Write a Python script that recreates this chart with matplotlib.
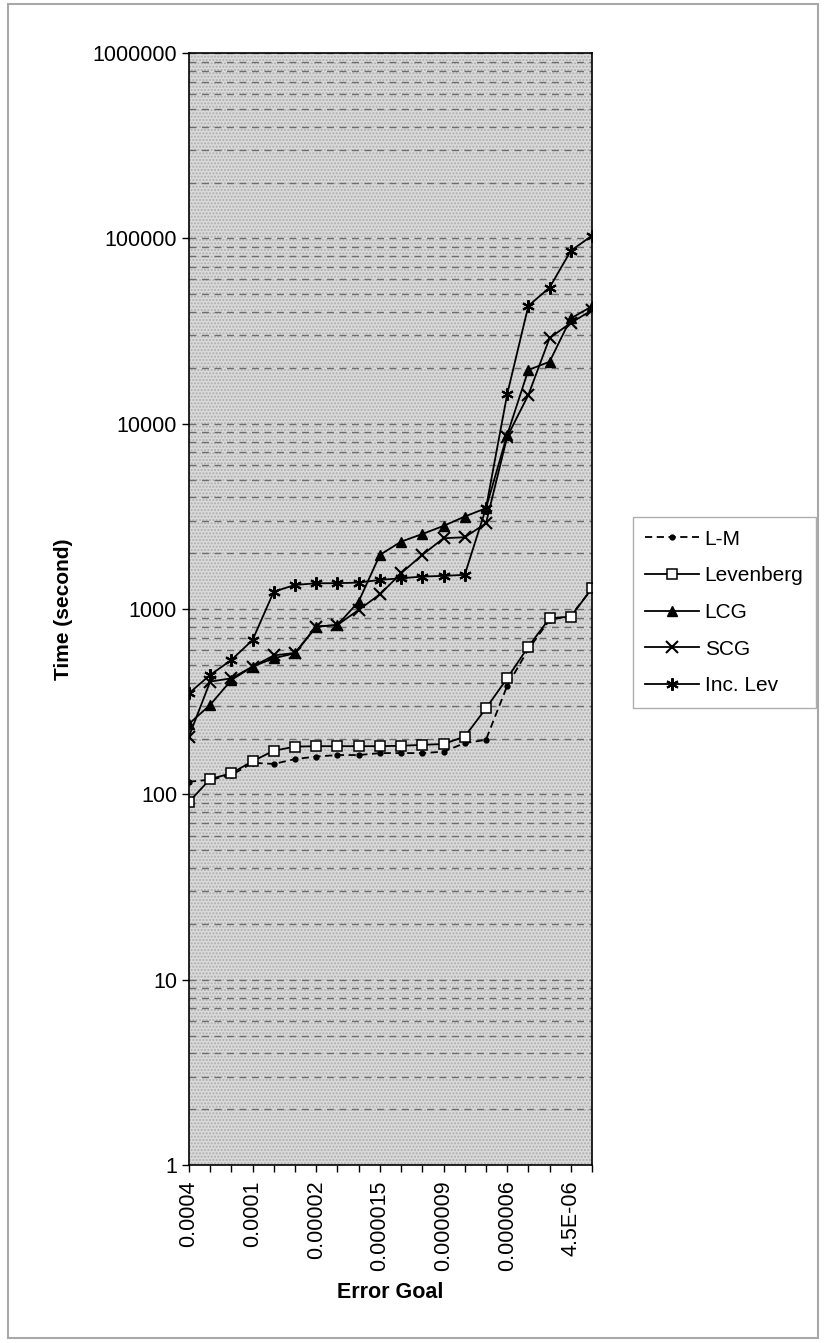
import numpy as np
import matplotlib.pyplot as plt
from matplotlib.ticker import LogLocator, FixedLocator, NullFormatter
from matplotlib.patches import Rectangle

plt.rcParams['font.family'] = ['Liberation Sans', 'DejaVu Sans']
plt.rcParams['hatch.linewidth'] = 1.0

# error goals (only every third one is labelled in the original)
goals = ['0.0004', '0.0003', '0.0002', '0.0001', '0.00008', '0.00005', '0.00002',
         '0.000019', '0.000017', '0.000015', '0.000013', '0.000011', '0.000009',
         '0.000008', '0.000007', '0.000006', '5.5E-06', '5E-06', '4.5E-06', '4E-06']
shown = [0, 3, 6, 9, 12, 15, 18]
y_ticks = [1, 10, 100, 1000, 10000, 100000, 1000000]

# training time in seconds
lm = [117, 120, 127, 148, 146, 155, 160, 163, 163, 167, 167, 167, 170, 189, 197,
      385, 607, 873, 920, 1290]
levenberg = [91, 121, 130, 151, 172, 181, 182, 182, 182, 182, 183, 185, 187, 205, 291,
             423, 627, 892, 910, 1295]
lcg = [240, 304, 414, 489, 543, 577, 804, 820, 1097, 1960, 2310, 2540, 2810, 3155, 3500,
       8700, 19500, 21600, 37000, 43000]
scg = [205, 406, 423, 489, 562, 580, 804, 820, 990, 1200, 1560, 1960, 2410, 2440, 2900,
       8500, 14300, 29000, 35000, 41000]
inc_lev = [351, 441, 531, 681, 1242, 1349, 1378, 1378, 1390, 1436, 1466, 1497, 1510, 1530,
           3500, 14400, 43250, 54300, 85700, 103500]

fig = plt.figure(figsize=(8.25, 13.43), dpi=100)
ax = fig.add_axes([0.229, 0.1325, 0.4886, 0.828])

# stippled grey plot area
ax.set_facecolor('#dadada')
ax.add_patch(Rectangle((0, 0), 1, 1, transform=ax.transAxes, facecolor='none',
                       edgecolor='#adadad', hatch='.....', lw=0, zorder=0))

x = np.arange(len(goals))
kw = dict(color='black', lw=1.3)
ax.plot(x, lm, linestyle=(0, (4, 2.5)), marker='o', ms=3.5, label='L-M', **kw)
ax.plot(x, levenberg, marker='s', ms=7, mfc='white', mec='black', mew=1.1,
        label='Levenberg', **kw)
ax.plot(x, lcg, marker='^', ms=7, label='LCG', **kw)
ax.plot(x, scg, marker='x', ms=8, mew=1.5, label='SCG', **kw)
ax.plot(x, inc_lev, marker=(6, 2, 0), ms=9, mew=1.5, label='Inc. Lev', **kw)

ax.set_yscale('log')
ax.set_ylim(1, 1e6)
ax.set_xlim(0, len(goals) - 1)
ax.yaxis.set_major_locator(FixedLocator(y_ticks))
ax.yaxis.set_minor_locator(LogLocator(base=10, subs=np.arange(2, 10), numticks=20))
ax.set_yticklabels([str(v) for v in y_ticks])
ax.yaxis.set_minor_formatter(NullFormatter())
ax.grid(True, which='both', axis='y', linestyle=(0, (5, 4)), color='#6e6e6e', lw=1.0)
ax.set_axisbelow(True)

ax.xaxis.set_major_locator(FixedLocator(shown))
ax.xaxis.set_minor_locator(FixedLocator([i for i in x if i not in shown]))
ax.set_xticklabels([goals[i] for i in shown], rotation=90, va='top')
ax.tick_params(axis='both', which='major', labelsize=15.5, direction='out',
               length=5, width=1, color='black')
ax.tick_params(axis='x', which='minor', direction='out', length=5, width=1)
ax.tick_params(axis='y', which='minor', length=0)
ax.tick_params(axis='x', pad=6)
for s in ax.spines.values():
    s.set_color('black')
    s.set_linewidth(1.2)

ax.set_ylabel('Time (second)', fontsize=15, fontweight='bold', labelpad=14)
ax.set_xlabel('Error Goal', fontsize=15.5, fontweight='bold', labelpad=8)

leg = ax.legend(loc='upper left', bbox_to_anchor=(0.767, 0.615),
                bbox_transform=fig.transFigure, fontsize=15, frameon=True,
                fancybox=False, edgecolor='#9a9a9a', handlelength=2.6,
                handletextpad=0.25, labelspacing=0.85, borderpad=0.6,
                borderaxespad=0)
leg.get_frame().set_linewidth(1.0)

# outer chart border
fig.add_artist(Rectangle((0.0097, 0.004), 0.982, 0.993, transform=fig.transFigure,
                         facecolor='none', edgecolor='#a8a8a8', lw=1.5))

fig.savefig('out.png', dpi=100, facecolor='white')
